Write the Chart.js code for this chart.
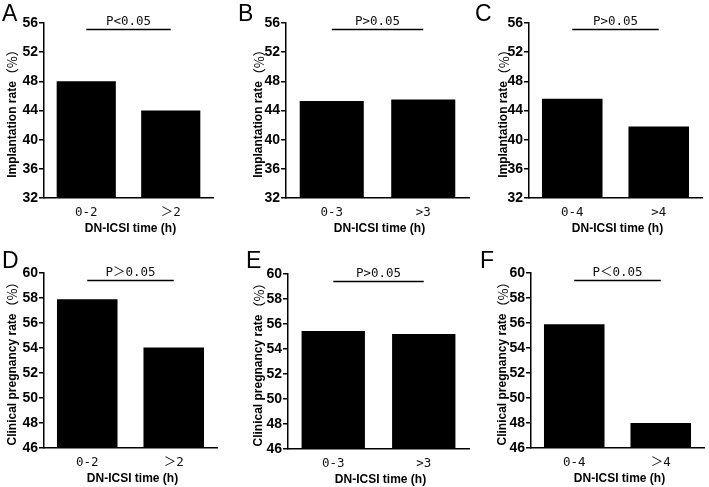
<!DOCTYPE html>
<html>
<head>
<meta charset="utf-8">
<script src="https://cdn.jsdelivr.net/npm/chart.js@4/dist/chart.umd.min.js"></script>
<style>
  html, body { margin: 0; padding: 0; background: #fff; }
  #wrap { position: relative; width: 709px; height: 487px; background: #fff; overflow: hidden; }
  #wrap canvas { position: absolute; }
</style>
</head>
<body>
<div id="wrap"></div>
<script>
// ---------------- DATA ----------------
const panelLetters = ['A', 'B', 'C', 'D', 'E', 'F'];

const catsA = ['0-2', '＞2'];
const valsA = [48.0, 44.0];
const catsB = ['0-3', '>3'];
const valsB = [45.3, 45.5];
const catsC = ['0-4', '>4'];
const valsC = [45.6, 41.8];
const catsD = ['0-2', '＞2'];
const valsD = [57.9, 54.05];
const catsE = ['0-3', '>3'];
const valsE = [55.45, 55.2];
const catsF = ['0-4', '＞4'];
const valsF = [55.9, 48.0];

const pTexts = ['P<0.05', 'P>0.05', 'P>0.05', 'P＞0.05', 'P>0.05', 'P＜0.05'];
const sigLevelImpl = 55.1;
const sigLevelCPR = 59.4;

const yTicksImpl = [32, 36, 40, 44, 48, 52, 56];
const yTicksCPR = [46, 48, 50, 52, 54, 56, 58, 60];

const yTitleImpl = 'Implantation rate';
const yTitleCPR = 'Clinical pregnancy rate';
const yTitleUnit = '（%）';
const xTitle = 'DN-ICSI time (h)';

// ---------------- LAYOUT (positions only) ----------------
const layout = [
  {x: 0,   y: 0,   w: 236, h: 240, L: 44, R: 213, T: 23, B: 198, lx: 2,  ly: 21, tx: 12.5},
  {x: 236, y: 0,   w: 236, h: 240, L: 50, R: 233, T: 23, B: 198, lx: 2,  ly: 21, tx: 23},
  {x: 472, y: 0,   w: 237, h: 240, L: 57, R: 230, T: 23, B: 198, lx: 3,  ly: 21, tx: 32},
  {x: 0,   y: 240, w: 236, h: 247, L: 44, R: 217, T: 33, B: 208, lx: 2,  ly: 28, tx: 12.5},
  {x: 236, y: 240, w: 236, h: 247, L: 52, R: 233, T: 34, B: 209, lx: 10, ly: 28, tx: 23},
  {x: 472, y: 240, w: 237, h: 247, L: 59, R: 232, T: 33, B: 208, lx: 8,  ly: 28, tx: 31}
];

const panelCats = [catsA, catsB, catsC, catsD, catsE, catsF];
const panelVals = [valsA, valsB, valsC, valsD, valsE, valsF];

const SANS = '"Liberation Sans", Arial, "Noto Sans CJK SC", sans-serif';
const MONO = '"DejaVu Sans Mono", "Noto Sans CJK SC", monospace';
const CJK = '"Noto Sans CJK SC", sans-serif';

const annotPlugin = {
  id: 'annot',
  afterDraw(chart, args, opts) {
    const ctx = chart.ctx;
    const xs = chart.scales.x, ys = chart.scales.y;
    const ca = chart.chartArea;
    ctx.save();
    // significance bar
    const x1 = xs.getPixelForValue(0), x2 = xs.getPixelForValue(1);
    const yl = ys.getPixelForValue(opts.sig);
    ctx.strokeStyle = '#000';
    ctx.lineWidth = 1.5;
    ctx.beginPath();
    ctx.moveTo(x1, yl);
    ctx.lineTo(x2, yl);
    ctx.stroke();
    // p text
    ctx.fillStyle = '#111';
    ctx.font = '12.5px ' + MONO;
    ctx.textAlign = 'center';
    ctx.textBaseline = 'alphabetic';
    ctx.fillText(opts.p, (x1 + x2) / 2, yl - 5);
    // panel letter
    ctx.fillStyle = '#000';
    ctx.font = '23px ' + SANS;
    ctx.textAlign = 'left';
    ctx.fillText(opts.letter, opts.lx, opts.ly);
    // x title
    ctx.font = 'bold 12px ' + SANS;
    ctx.textAlign = 'center';
    ctx.textBaseline = 'middle';
    ctx.fillText(xTitle, (ca.left + ca.right) / 2 + 2, ca.bottom + 31);
    // y title (rotated)
    ctx.translate(opts.tx, (ca.top + ca.bottom) / 2);
    ctx.rotate(-Math.PI / 2);
    ctx.font = 'bold 12px ' + SANS;
    const w1 = ctx.measureText(opts.ytitle).width;
    ctx.font = '13px ' + CJK;
    const w2 = ctx.measureText(yTitleUnit).width;
    const start = -(w1 + w2) / 2;
    ctx.textAlign = 'left';
    ctx.textBaseline = 'middle';
    ctx.font = 'bold 12px ' + SANS;
    ctx.fillText(opts.ytitle, start, 0);
    ctx.font = '13px ' + CJK;
    ctx.fillText(yTitleUnit, start + w1, 0);
    ctx.restore();
  }
};

const wrap = document.getElementById('wrap');
layout.forEach((lay, i) => {
  const cv = document.createElement('canvas');
  cv.width = lay.w; cv.height = lay.h;
  cv.style.left = lay.x + 'px'; cv.style.top = lay.y + 'px';
  cv.style.width = lay.w + 'px'; cv.style.height = lay.h + 'px';
  wrap.appendChild(cv);
  const impl = i < 3;
  const yTicks = impl ? yTicksImpl : yTicksCPR;
  new Chart(cv, {
    type: 'bar',
    data: {
      labels: panelCats[i],
      datasets: [{
        data: panelVals[i],
        backgroundColor: '#000',
        borderColor: '#000',
        borderWidth: 0,
        barPercentage: 0.7,
        categoryPercentage: 1
      }]
    },
    options: {
      responsive: false,
      animation: false,
      events: [],
      devicePixelRatio: 1,
      layout: {padding: {left: 0, top: lay.T, right: lay.w - lay.R, bottom: 0}},
      plugins: {
        legend: {display: false},
        tooltip: {enabled: false},
        annot: {
          sig: impl ? sigLevelImpl : sigLevelCPR,
          p: pTexts[i],
          letter: panelLetters[i],
          lx: lay.lx, ly: lay.ly, tx: lay.tx,
          ytitle: impl ? yTitleImpl : yTitleCPR
        }
      },
      scales: {
        x: {
          grid: {display: false, drawTicks: false},
          border: {display: true, color: '#000', width: 1.5},
          ticks: {font: {family: MONO, size: 12.5}, color: '#111', padding: 7, maxRotation: 0},
          afterFit(s) { s.height = lay.h - lay.B; }
        },
        y: {
          min: yTicks[0],
          max: yTicks[yTicks.length - 1],
          afterBuildTicks(s) { s.ticks = yTicks.map(v => ({value: v})); },
          grid: {drawOnChartArea: false, drawTicks: true, tickLength: 5, color: '#000', lineWidth: 1.5},
          border: {display: true, color: '#000', width: 1.5},
          ticks: {font: {family: SANS, size: 14, weight: 'bold'}, color: '#000', padding: 1},
          afterFit(s) { s.width = lay.L; }
        }
      }
    },
    plugins: [annotPlugin]
  });
});
</script>
</body>
</html>
